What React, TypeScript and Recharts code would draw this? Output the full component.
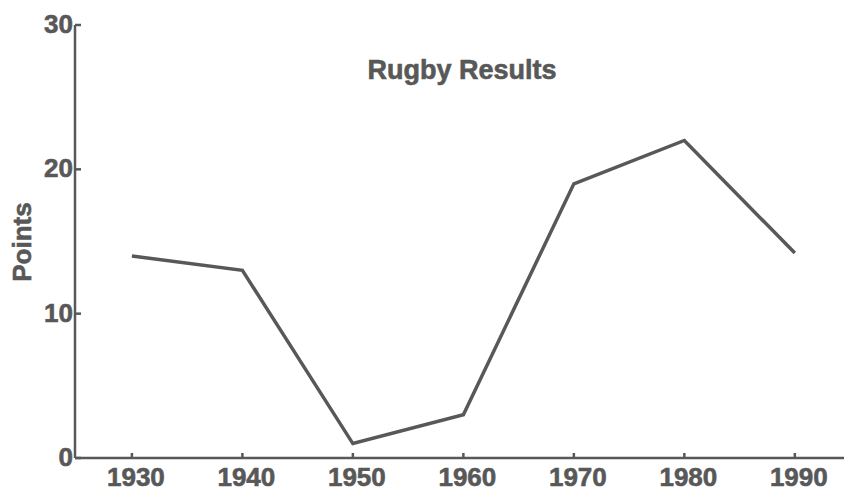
import { LineChart, Line, XAxis, YAxis } from 'recharts';

const years = [1930, 1940, 1950, 1960, 1970, 1980, 1990];
const points = [14, 13, 1, 3, 19, 22, 14.2];
const yTicks = [0, 10, 20, 30];

const data = years.map((year, i) => ({ year, points: points[i] }));

const INK = '#585858';
const FONT = 'Arial, "Liberation Sans", Helvetica, sans-serif';

// tick marks point into the plot, labels sit outside
function XTick(props: any) {
  const { x, y, payload } = props;
  return (
    <g>
      <line x1={x} x2={x} y1={y - 5} y2={y} stroke={INK} strokeWidth={2.5} />
      <text
        x={x + 4}
        y={y + 28}
        textAnchor="middle"
        fill={INK}
        stroke={INK}
        strokeWidth={0.6}
        fontFamily={FONT}
        fontWeight="bold"
        fontSize={26}
      >
        {payload.value}
      </text>
    </g>
  );
}

function YTick(props: any) {
  const { x, y, payload } = props;
  return (
    <g>
      <line x1={x} x2={x + 6} y1={y} y2={y} stroke={INK} strokeWidth={2.5} />
      <text
        x={x - 2}
        y={y + 8}
        textAnchor="end"
        fill={INK}
        stroke={INK}
        strokeWidth={0.6}
        fontFamily={FONT}
        fontWeight="bold"
        fontSize={26}
      >
        {payload.value}
      </text>
    </g>
  );
}

export default function App() {
  return (
    <div style={{ position: 'absolute', left: 0, top: 0, width: 844, height: 492, background: '#fff' }}>
      <LineChart width={844} height={492} data={data} margin={{ top: 25, right: 0, bottom: 0, left: 0 }}>
        <XAxis
          dataKey="year"
          type="number"
          domain={[1924.85, 1994.45]}
          ticks={years}
          allowDataOverflow
          height={34}
          tickSize={0}
          tickMargin={0}
          tickLine={false}
          tick={<XTick />}
          axisLine={{ stroke: INK, strokeWidth: 2.5 }}
        />
        <YAxis
          domain={[0, 30]}
          ticks={yTicks}
          interval={0}
          width={75}
          tickSize={0}
          tickMargin={0}
          tickLine={false}
          tick={<YTick />}
          axisLine={{ stroke: INK, strokeWidth: 2.5 }}
        />
        <Line
          type="linear"
          dataKey="points"
          stroke={INK}
          strokeWidth={3.5}
          dot={false}
          isAnimationActive={false}
        />
      </LineChart>
      <div
        style={{
          position: 'absolute',
          left: 462,
          top: 55,
          transform: 'translateX(-50%)',
          fontFamily: FONT,
          fontWeight: 'bold',
          fontSize: 27,
          color: INK,
          WebkitTextStroke: `0.6px ${INK}`,
          whiteSpace: 'nowrap',
          lineHeight: '30px',
        }}
      >
        Rugby Results
      </div>
      <div
        style={{
          position: 'absolute',
          left: 22,
          top: 242,
          transform: 'translate(-50%, -50%) rotate(-90deg)',
          fontFamily: FONT,
          fontWeight: 'bold',
          fontSize: 26,
          color: INK,
          WebkitTextStroke: `0.6px ${INK}`,
          whiteSpace: 'nowrap',
          lineHeight: '26px',
        }}
      >
        Points
      </div>
    </div>
  );
}
